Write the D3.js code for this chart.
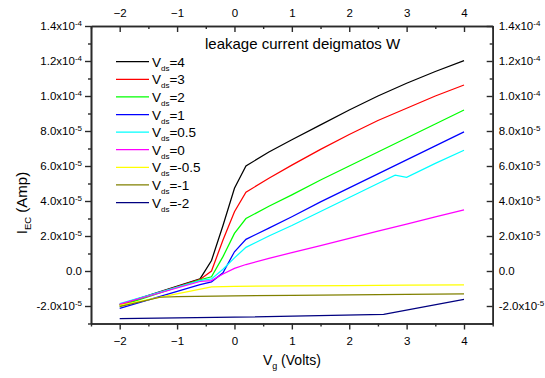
<!DOCTYPE html>
<html>
<head>
<meta charset="utf-8">
<script src="https://cdn.jsdelivr.net/npm/d3@7"></script>
<style>
  body { margin: 0; background: #fff; }
  svg text { font-family: "Liberation Sans", Arial, sans-serif; fill: #000; }
</style>
</head>
<body>
<svg id="chart" width="545" height="378"></svg>
<script>
// Gate voltage sweeps (V) and leakage current (A) for each drain bias
const vdsLabels = ["4", "3", "2", "1", "0.5", "0", "-0.5", "-1", "-2"];
const seriesColors = ["#000000", "#ff0000", "#00ff00", "#0000ff", "#00ffff", "#ff00ff", "#ffff00", "#808000", "#000080"];

const vgMain = [-2, -0.6, -0.4, -0.2, 0, 0.2, 0.6, 1, 1.5, 2, 2.5, 3, 3.5, 4];
const iVds4  = [-1.92e-5, -0.45e-5, 0.6e-5, 2.6e-5, 4.73e-5, 6.0e-5, 6.8e-5, 7.5e-5, 8.35e-5, 9.2e-5, 10.0e-5, 10.73e-5, 11.4e-5, 12.02e-5];
const iVds3  = [-1.95e-5, -0.48e-5, 0.0, 1.77e-5, 3.39e-5, 4.5e-5, 5.3e-5, 6.05e-5, 6.95e-5, 7.8e-5, 8.6e-5, 9.3e-5, 10.0e-5, 10.63e-5];
const iVds2  = [-2.01e-5, -0.5e-5, -0.33e-5, 0.82e-5, 2.15e-5, 3.0e-5, 3.7e-5, 4.35e-5, 5.2e-5, 6.0e-5, 6.8e-5, 7.6e-5, 8.4e-5, 9.2e-5];
const iVds1  = [-2.14e-5, -0.78e-5, -0.62e-5, -0.1e-5, 1.1e-5, 1.81e-5, 2.45e-5, 3.1e-5, 3.95e-5, 4.75e-5, 5.55e-5, 6.35e-5, 7.15e-5, 7.95e-5];
const iVds0  = [-1.89e-5, -0.6e-5, -0.55e-5, -0.17e-5, 0.15e-5, 0.37e-5, 0.72e-5, 1.05e-5, 1.45e-5, 1.87e-5, 2.28e-5, 2.68e-5, 3.09e-5, 3.49e-5];

const vgHalf  = [-2, -0.6, -0.4, -0.2, 0, 0.2, 0.6, 1, 1.5, 2, 2.5, 2.8, 3, 3.5, 4];
const iVds05  = [-1.86e-5, -0.55e-5, -0.45e-5, 0.1e-5, 0.75e-5, 1.35e-5, 2.0e-5, 2.6e-5, 3.4e-5, 4.2e-5, 5.0e-5, 5.48e-5, 5.35e-5, 6.15e-5, 6.9e-5];

const vgNegHalf = [-2, -0.4, 0, 1, 2, 3, 4];
const iVdsM05   = [-1.97e-5, -0.91e-5, -0.88e-5, -0.85e-5, -0.83e-5, -0.81e-5, -0.79e-5];

const vgNegOne = [-2, -1.3, -1, 0, 1, 2, 3, 4];
const iVdsM1   = [-2.04e-5, -1.5e-5, -1.47e-5, -1.42e-5, -1.39e-5, -1.36e-5, -1.33e-5, -1.31e-5];

const vgNegTwo = [-2, 0, 2.6, 4];
const iVdsM2   = [-2.72e-5, -2.64e-5, -2.48e-5, -1.62e-5];

const seriesVg = [vgMain, vgMain, vgMain, vgMain, vgHalf, vgMain, vgNegHalf, vgNegOne, vgNegTwo];
const seriesI  = [iVds4, iVds3, iVds2, iVds1, iVds05, iVds0, iVdsM05, iVdsM1, iVdsM2];

// Axis ticks
const xTicks = [-2, -1, 0, 1, 2, 3, 4];
const xMinorTicks = [-2.5, -1.5, -0.5, 0.5, 1.5, 2.5, 3.5, 4.5];
const yTicks = [-2e-5, 0, 2e-5, 4e-5, 6e-5, 8e-5, 1.0e-4, 1.2e-4, 1.4e-4];
const yTickMantissa = ["-2.0", "0.0", "2.0", "4.0", "6.0", "8.0", "1.0", "1.2", "1.4"];
const yTickExponent = ["-5", null, "-5", "-5", "-5", "-5", "-4", "-4", "-4"];
const yMinorTicks = [-3e-5, -1e-5, 1e-5, 3e-5, 5e-5, 7e-5, 9e-5, 1.1e-4, 1.3e-4];

const titleText = "leakage current deigmatos W";

const svg = d3.select("#chart");
const plot = { left: 91, right: 492.7, top: 26, bottom: 323.5 };

const x = d3.scaleLinear().domain([-2.5, 4.5]).range([plot.left, plot.right]);
const y = d3.scaleLinear().domain([-3e-5, 1.4e-4]).range([plot.bottom, plot.top]);

const axisColor = "#2a2a2a";
const tickFont = 11.5;

// Curves
const line = d3.line().x(d => x(d[0])).y(d => y(d[1]));
const curves = svg.append("g");
seriesI.forEach((vals, k) => {
  const pts = seriesVg[k].map((v, i) => [v, vals[i]]);
  curves.append("path")
    .attr("d", line(pts))
    .attr("fill", "none")
    .attr("stroke", seriesColors[k])
    .attr("stroke-width", 1.25);
});

function styleAxis(g) {
  g.select(".domain").attr("stroke", axisColor).attr("stroke-width", 1.6);
  g.selectAll(".tick line").attr("stroke", axisColor).attr("stroke-width", 1.4);
  g.selectAll("text").attr("font-size", tickFont).attr("font-family", "Liberation Sans, Arial, sans-serif").attr("fill", "#000");
}

function sciLabels(g) {
  g.selectAll(".tick text").each(function (d, i) {
    const t = d3.select(this);
    t.text(null);
    t.append("tspan").text(yTickMantissa[i] + (yTickExponent[i] ? "x10" : ""));
    if (yTickExponent[i]) {
      t.append("tspan").attr("dy", "-0.55em").attr("font-size", 8).text(yTickExponent[i]);
    }
  });
}

// Minor ticks
svg.append("g").attr("transform", `translate(0,${plot.bottom})`)
  .call(d3.axisBottom(x).tickValues(xMinorTicks).tickSize(3).tickSizeOuter(0).tickFormat(""))
  .call(styleAxis);
svg.append("g").attr("transform", `translate(0,${plot.top})`)
  .call(d3.axisTop(x).tickValues(xMinorTicks).tickSize(-3).tickSizeOuter(0).tickFormat(""))
  .call(styleAxis);
svg.append("g").attr("transform", `translate(${plot.left},0)`)
  .call(d3.axisLeft(y).tickValues(yMinorTicks).tickSize(3).tickSizeOuter(0).tickFormat(""))
  .call(styleAxis);
svg.append("g").attr("transform", `translate(${plot.right},0)`)
  .call(d3.axisRight(y).tickValues(yMinorTicks).tickSize(-3).tickSizeOuter(0).tickFormat(""))
  .call(styleAxis);

// Major axes
svg.append("g").attr("transform", `translate(0,${plot.bottom})`)
  .call(d3.axisBottom(x).tickValues(xTicks).tickSize(6).tickSizeOuter(0).tickPadding(7).tickFormat(d3.format("d")))
  .call(styleAxis);
svg.append("g").attr("transform", `translate(0,${plot.top})`)
  .call(d3.axisTop(x).tickValues(xTicks).tickSize(-6).tickSizeOuter(0).tickPadding(9).tickFormat(d3.format("d")))
  .call(styleAxis);
svg.append("g").attr("transform", `translate(${plot.left},0)`)
  .call(d3.axisLeft(y).tickValues(yTicks).tickSize(6).tickSizeOuter(0).tickPadding(3))
  .call(styleAxis).call(sciLabels);
svg.append("g").attr("transform", `translate(${plot.right},0)`)
  .call(d3.axisRight(y).tickValues(yTicks).tickSize(-6).tickSizeOuter(0).tickPadding(6))
  .call(styleAxis).call(sciLabels);

// Title inside the plot
svg.append("text").attr("x", 205).attr("y", 49).attr("font-size", 15).text(titleText);

// Axis titles
const xTitle = svg.append("text").attr("x", (plot.left + plot.right) / 2).attr("y", 365)
  .attr("text-anchor", "middle").attr("font-size", 14);
xTitle.append("tspan").text("V");
xTitle.append("tspan").attr("dy", 4).attr("font-size", 9).text("g");
xTitle.append("tspan").attr("dy", -4).text(" (Volts)");

const yTitle = svg.append("text").attr("transform", "translate(27,203) rotate(-90)")
  .attr("text-anchor", "middle").attr("font-size", 15);
yTitle.append("tspan").text("I");
yTitle.append("tspan").attr("dy", 4).attr("font-size", 9.5).text("EC");
yTitle.append("tspan").attr("dy", -4).text(" (Amp)");

// Legend
const legend = svg.append("g");
vdsLabels.forEach((lab, k) => {
  const ly = 61.7 + k * 17.6;
  legend.append("line").attr("x1", 116).attr("x2", 149).attr("y1", ly).attr("y2", ly)
    .attr("stroke", seriesColors[k]).attr("stroke-width", 1.25);
  const t = legend.append("text").attr("x", 152).attr("y", ly + 5).attr("font-size", 13.5);
  t.append("tspan").text("V");
  t.append("tspan").attr("dy", 4).attr("font-size", 8).text("ds");
  t.append("tspan").attr("dy", -4).text("=" + lab);
});
</script>
</body>
</html>
